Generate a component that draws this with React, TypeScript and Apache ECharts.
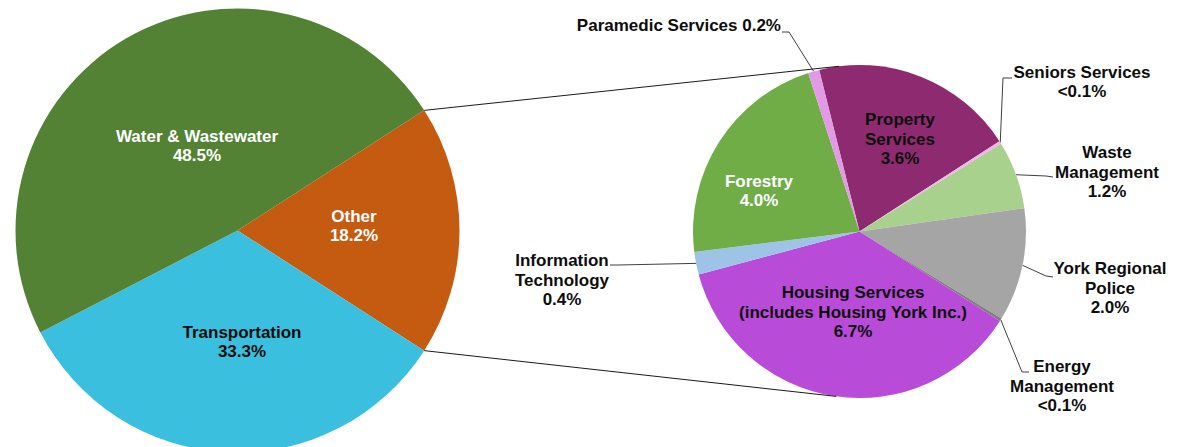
import React, { useEffect, useRef } from 'react';
import * as echarts from 'echarts';

// ---- Data ----
const mainCategories = ['Other', 'Transportation', 'Water & Wastewater'];
const mainLabelNames = ['Other', 'Transportation', 'Water & Wastewater'];
const mainValues = [18.2, 33.3, 48.5];
const mainColors = ['#C55A11', '#3BBFDE', '#548235'];
const mainTextColors = ['#ffffff', '#0d0d0d', '#ffffff'];

const detailCategories = [
  'Property Services',
  'Seniors Services',
  'Waste Management',
  'York Regional Police',
  'Energy Management',
  'Housing Services (includes Housing York Inc.)',
  'Information Technology',
  'Forestry',
  'Paramedic Services',
];
const detailLabelNames = [
  'Property\nServices',
  'Seniors Services',
  'Waste\nManagement',
  'York Regional\nPolice',
  'Energy\nManagement',
  'Housing Services\n(includes Housing York Inc.)',
  'Information\nTechnology',
  'Forestry',
  'Paramedic Services',
];
// <0.1% slices shown as 0.05
const detailValues = [3.6, 0.05, 1.2, 2.0, 0.05, 6.7, 0.4, 4.0, 0.2];
const detailColors = ['#8E2A6F', '#F2B3EE', '#A9D18E', '#A5A5A5', '#7F7F7F', '#B84BD8', '#9DC3E6', '#70AD47', '#E39AE6'];
const detailTextColors = ['#0d0d0d', '#0d0d0d', '#0d0d0d', '#0d0d0d', '#0d0d0d', '#0d0d0d', '#0d0d0d', '#ffffff', '#0d0d0d'];
const detailInside = [true, false, false, false, false, true, false, true, false];

// ---- Layout (positions / styles) ----
const LEFT = { cx: 237.5, cy: 230.5, r: 222 };
const RIGHT = { cx: 859.5, cy: 231.5, r: 166.5, start: 104 };
const CONNECT_TOP_ANGLE = 97;
const CONNECT_BOTTOM_ANGLE = -98;

const mainLabelPos = [
  { x: 354, y: 226 },
  { x: 242, y: 342 },
  { x: 197, y: 146 },
];
const detailLabelPos: any[] = [
  { x: 900, y: 139 },
  { x: 1082, y: 82, line: [[1003, 78], [1012, 78]] },
  { x: 1107, y: 172, line: [[1046, 176], [1053, 177]] },
  { x: 1110, y: 288, line: [[1046, 276], [1053, 277]] },
  { x: 1062, y: 386, line: [[1022, 372], [1029, 372]] },
  { x: 853, y: 312 },
  { x: 562, y: 280, line: [[618, 265], [610, 265]] },
  { x: 759, y: 191 },
  { x: 781, y: 25, align: 'right', line: [[789, 32], [782, 32]] },
];

const FONT = 'Liberation Sans, Arial, Helvetica, sans-serif';

const fmtPct = (v: number) => (v < 0.1 ? '<0.1%' : v.toFixed(1) + '%');

export default function App() {
  const ref = useRef<HTMLDivElement>(null);

  useEffect(() => {
    document.body.style.margin = '0';
    if (!ref.current) return;
    const chart = echarts.init(ref.current, undefined, { renderer: 'svg' });

    const total = mainValues.reduce((a, b) => a + b, 0);
    const half = (mainValues[0] / total) * 180;
    const rad = (d: number) => (d * Math.PI) / 180;
    const lTop = [LEFT.cx + LEFT.r * Math.cos(rad(half)), LEFT.cy - LEFT.r * Math.sin(rad(half))];
    const lBot = [LEFT.cx + LEFT.r * Math.cos(rad(half)), LEFT.cy + LEFT.r * Math.sin(rad(half))];
    const rTop = [RIGHT.cx + RIGHT.r * Math.cos(rad(CONNECT_TOP_ANGLE)), RIGHT.cy - RIGHT.r * Math.sin(rad(CONNECT_TOP_ANGLE))];
    const rBot = [RIGHT.cx + RIGHT.r * Math.cos(rad(CONNECT_BOTTOM_ANGLE)), RIGHT.cy - RIGHT.r * Math.sin(rad(CONNECT_BOTTOM_ANGLE))];

    const labelBase = {
      fontFamily: FONT,
      fontWeight: 'bold' as const,
      fontSize: 17,
      lineHeight: 19.5,
      align: 'center' as const,
    };

    const option: any = {
      animation: false,
      backgroundColor: '#ffffff',
      graphic: [
        {
          type: 'line',
          shape: { x1: lTop[0], y1: lTop[1], x2: rTop[0], y2: rTop[1] },
          style: { stroke: '#1a1a1a', lineWidth: 1 },
          z: 10,
        },
        {
          type: 'line',
          shape: { x1: lBot[0], y1: lBot[1], x2: rBot[0], y2: rBot[1] },
          style: { stroke: '#1a1a1a', lineWidth: 1 },
          z: 10,
        },
      ],
      series: [
        {
          type: 'pie',
          center: [LEFT.cx, LEFT.cy],
          radius: LEFT.r,
          startAngle: half,
          clockwise: true,
          avoidLabelOverlap: false,
          itemStyle: { borderWidth: 0 },
          label: {
            ...labelBase,
            position: 'inside',
            formatter: (p: any) => mainLabelNames[p.dataIndex] + '\n' + fmtPct(p.value),
          },
          labelLine: { show: false },
          labelLayout: (p: any) => ({
            x: mainLabelPos[p.dataIndex].x,
            y: mainLabelPos[p.dataIndex].y,
            align: 'center',
            verticalAlign: 'middle',
          }),
          emphasis: { disabled: true },
          data: mainCategories.map((name, i) => ({
            name,
            value: mainValues[i],
            itemStyle: { color: mainColors[i] },
            label: { color: mainTextColors[i] },
          })),
        },
        {
          type: 'pie',
          center: [RIGHT.cx, RIGHT.cy],
          radius: RIGHT.r,
          startAngle: RIGHT.start,
          clockwise: true,
          avoidLabelOverlap: false,
          itemStyle: { borderWidth: 0 },
          label: {
            ...labelBase,
            formatter: (p: any) =>
              detailLabelNames[p.dataIndex] + (p.dataIndex === 8 ? ' ' : '\n') + fmtPct(p.value),
          },
          labelLine: {
            show: true,
            length: 10,
            length2: 10,
            lineStyle: { color: '#404040', width: 1 },
          },
          labelLayout: (p: any) => {
            const cfg = detailLabelPos[p.dataIndex];
            const res: any = {
              x: cfg.x,
              y: cfg.y,
              align: cfg.align || 'center',
              verticalAlign: 'middle',
            };
            if (cfg.line && p.labelLinePoints && p.labelLinePoints.length) {
              res.labelLinePoints = [p.labelLinePoints[0], ...cfg.line];
            }
            return res;
          },
          emphasis: { disabled: true },
          data: detailCategories.map((name, i) => ({
            name,
            value: detailValues[i],
            itemStyle: { color: detailColors[i] },
            label: {
              position: detailInside[i] ? 'inside' : 'outside',
              color: detailTextColors[i],
            },
            labelLine: { show: !detailInside[i] },
          })),
        },
      ],
    };

    chart.setOption(option);
    return () => chart.dispose();
  }, []);

  return <div ref={ref} style={{ width: 1180, height: 447 }} />;
}
